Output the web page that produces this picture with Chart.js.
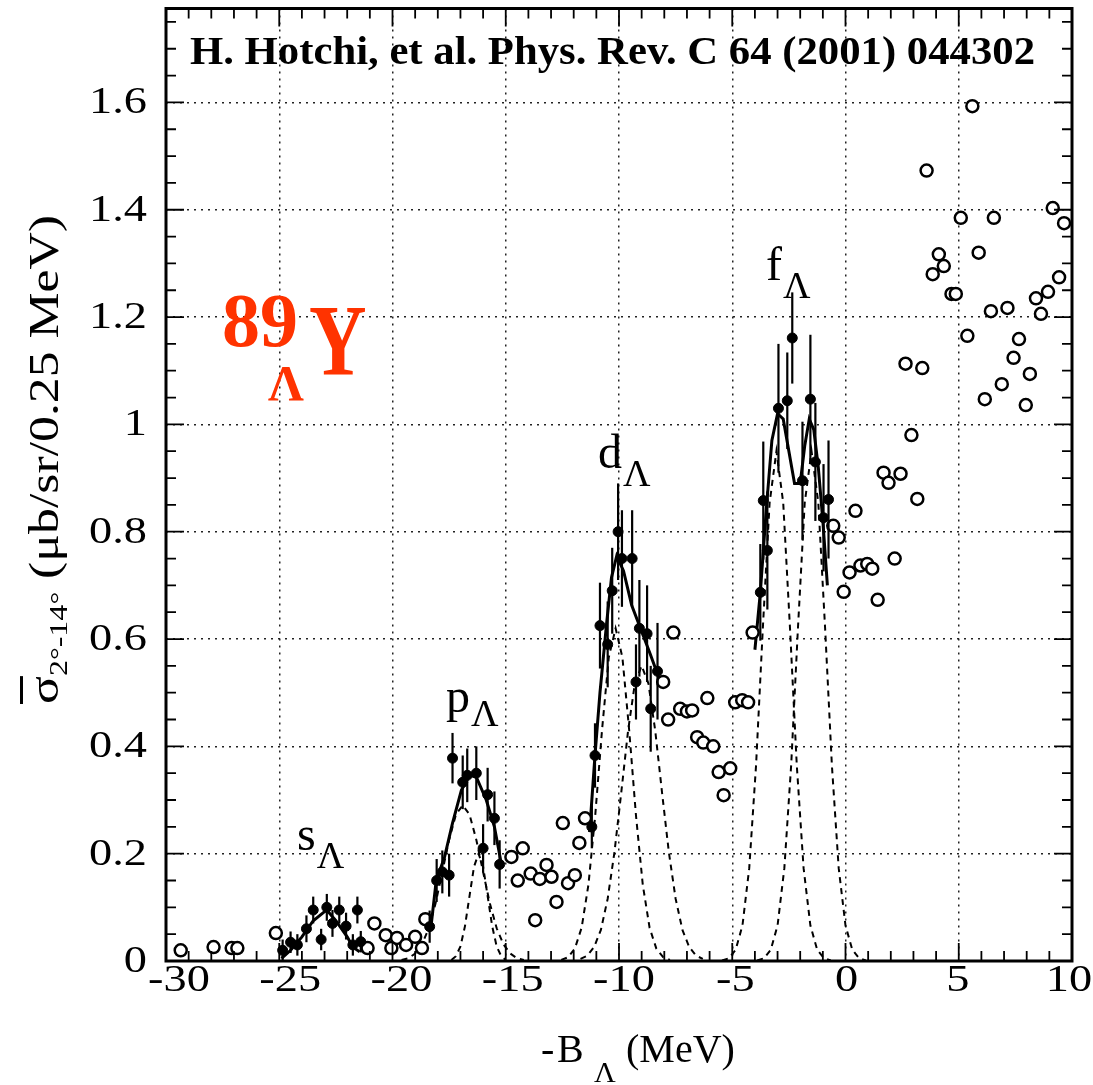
<!DOCTYPE html>
<html>
<head>
<meta charset="utf-8">
<script src="https://cdn.jsdelivr.net/npm/chart.js@4.4.0/dist/chart.umd.min.js"></script>
<style>
  html, body { margin: 0; padding: 0; background: #fff; }
</style>
</head>
<body>
<canvas id="chart" width="1093" height="1085"></canvas>
<script>
// ──────────────────────────────────────────────
// Data (x = -B_Λ in MeV, y = cross section)
// ──────────────────────────────────────────────

// open circles (outside the fitted regions)
const openX = [-29.35, -27.9, -27.1, -26.85, -25.15, -21.1, -20.8, -20.3, -20.05, -19.8, -19.4, -19.0, -18.7, -18.55,
               -14.75, -14.47, -14.25, -13.9, -13.7, -13.5, -13.2, -12.98, -12.76, -12.48, -12.25, -11.95, -11.75, -11.5,
               -8.05, -7.83, -7.6, -7.3, -7.0, -6.77, -6.55, -6.28, -6.1, -5.84, -5.6, -5.38, -5.09, -4.87, -4.56, -4.3, -4.1,
               -0.54, -0.3, -0.08, 0.18, 0.44, 0.66, 0.96, 1.18, 1.42, 1.68, 1.9, 2.17, 2.43, 2.65, 2.91, 3.17, 3.39, 3.58,
               3.85, 4.12, 4.34, 4.68, 4.87, 5.09, 5.38, 5.6, 5.88, 6.15, 6.42, 6.55, 6.9, 7.15, 7.42, 7.66, 7.96, 8.14,
               8.41, 8.63, 8.94, 9.15, 9.43, 9.65];
const openY = [0.02, 0.026, 0.024, 0.024, 0.052, 0.024, 0.07, 0.048, 0.024, 0.043, 0.03, 0.045, 0.024, 0.078,
               0.194, 0.15, 0.21, 0.163, 0.076, 0.153, 0.179, 0.157, 0.11, 0.257, 0.145, 0.16, 0.22, 0.266,
               0.52, 0.45, 0.612, 0.47, 0.465, 0.467, 0.417, 0.407, 0.49, 0.40, 0.352, 0.309, 0.359, 0.482, 0.486, 0.482, 0.612,
               0.811, 0.789, 0.688, 0.724, 0.839, 0.737, 0.74, 0.731, 0.673, 0.91, 0.891, 0.75, 0.908, 1.113, 0.98, 0.861, 1.105, 1.473,
               1.28, 1.317, 1.295, 1.243, 1.243, 1.385, 1.165, 1.593, 1.32, 1.047, 1.211, 1.385, 1.075, 1.217, 1.124, 1.159, 1.036, 1.094,
               1.235, 1.206, 1.247, 1.403, 1.274, 1.375];

// filled points with error bars (fitted regions)
const fillX = [-24.85, -24.5, -24.2, -23.8, -23.5, -23.15, -22.9, -22.65, -22.35, -22.05, -21.75, -21.55, -21.4,
               -18.36, -18.05, -17.8, -17.5, -17.35, -16.9, -16.7, -16.3, -16.0, -15.8, -15.5, -15.27,
               -11.2, -11.06, -10.84, -10.5, -10.3, -10.04, -9.87, -9.42, -9.25, -9.1, -8.76, -8.6, -8.3,
               -3.76, -3.63, -3.45, -2.96, -2.57, -2.35, -1.9, -1.55, -1.33, -0.97, -0.75];
const fillY = [0.02, 0.035, 0.03, 0.06, 0.095, 0.04, 0.10, 0.07, 0.095, 0.065, 0.03, 0.095, 0.036,
               0.064, 0.15, 0.166, 0.16, 0.378, 0.333, 0.346, 0.35, 0.21, 0.31, 0.266, 0.18,
               0.25, 0.383, 0.625, 0.59, 0.69, 0.80, 0.75, 0.75, 0.52, 0.62, 0.61, 0.47, 0.54,
               0.687, 0.858, 0.765, 1.03, 1.044, 1.161, 0.895, 1.047, 0.93, 0.826, 0.86];
const fillErr = [0.02, 0.02, 0.02, 0.025, 0.025, 0.02, 0.025, 0.025, 0.025, 0.025, 0.02, 0.025, 0.02,
                 0.03, 0.04, 0.04, 0.04, 0.047, 0.05, 0.05, 0.05, 0.045, 0.05, 0.05, 0.045,
                 0.04, 0.06, 0.08, 0.08, 0.08, 0.09, 0.09, 0.09, 0.07, 0.09, 0.09, 0.08, 0.09,
                 0.09, 0.11, 0.11, 0.12, 0.09, 0.085, 0.11, 0.12, 0.11, 0.1, 0.11];

// total fit (solid) per shell
const sFitX = [-24.9, -24.5, -24.0, -23.5, -23.0, -22.9, -22.5, -22.0, -21.75, -21.45];
const sFitY = [0.005, 0.02, 0.045, 0.075, 0.092, 0.095, 0.075, 0.045, 0.026, 0.017];
const pFitX = [-18.3, -18.07, -17.7, -17.35, -16.96, -16.6, -16.3, -15.86, -15.5, -15.2];
const pFitY = [0.064, 0.15, 0.194, 0.257, 0.318, 0.346, 0.343, 0.30, 0.25, 0.182];
const dFitX = [-11.3, -11.06, -10.84, -10.55, -10.33, -10.1, -9.8, -9.44, -9.07, -8.63, -8.2];
const dFitY = [0.24, 0.383, 0.5, 0.628, 0.715, 0.755, 0.727, 0.663, 0.622, 0.573, 0.523];
const fFitX = [-4.0, -3.76, -3.5, -3.25, -3.0, -2.75, -2.5, -2.25, -2.0, -1.8, -1.6, -1.4, -1.2, -1.0, -0.8];
const fFitY = [0.58, 0.687, 0.84, 0.97, 1.02, 1.01, 0.95, 0.89, 0.89, 0.96, 1.01, 0.99, 0.92, 0.82, 0.70];

// single components (dashed)
const p1DashX = [-19.6, -19.3, -19.0, -18.7, -18.4, -18.1, -17.8, -17.5, -17.2, -16.9, -16.6, -16.3, -16.0, -15.7, -15.4, -15.1, -14.8, -14.5, -14.2];
const p1DashY = [0.002, 0.005, 0.014, 0.031, 0.061, 0.107, 0.166, 0.226, 0.273, 0.29, 0.273, 0.226, 0.166, 0.107, 0.061, 0.031, 0.014, 0.005, 0.002];
const p2DashX = [-17.4, -17.2, -17.0, -16.8, -16.6, -16.4, -16.2, -16.0, -15.8, -15.6, -15.4, -15.2, -15.0];
const p2DashY = [0.002, 0.009, 0.027, 0.065, 0.121, 0.176, 0.2, 0.176, 0.121, 0.065, 0.027, 0.009, 0.002];
const d1DashX = [-12.55, -12.25, -11.95, -11.65, -11.35, -11.05, -10.75, -10.45, -10.15, -9.85, -9.55, -9.25, -8.95, -8.65, -8.35, -8.05, -7.75];
const d1DashY = [0.002, 0.007, 0.023, 0.062, 0.142, 0.271, 0.43, 0.566, 0.62, 0.566, 0.43, 0.271, 0.142, 0.062, 0.023, 0.007, 0.002];
const d2DashX = [-11.7, -11.4, -11.1, -10.8, -10.5, -10.2, -9.9, -9.6, -9.3, -9.0, -8.7, -8.4, -8.1, -7.8, -7.5, -7.2, -6.9, -6.6, -6.3];
const d2DashY = [0.004, 0.010, 0.026, 0.058, 0.116, 0.203, 0.314, 0.429, 0.517, 0.55, 0.517, 0.429, 0.314, 0.203, 0.116, 0.058, 0.026, 0.010, 0.004];
const f1DashX = [-5.45, -5.15, -4.85, -4.55, -4.25, -3.95, -3.65, -3.35, -3.05, -2.75, -2.45, -2.15, -1.85, -1.55, -1.25, -0.95, -0.65];
const f1DashY = [0.001, 0.005, 0.021, 0.066, 0.173, 0.364, 0.62, 0.854, 0.95, 0.854, 0.62, 0.364, 0.173, 0.066, 0.021, 0.005, 0.001];
const f2DashX = [-3.9, -3.6, -3.3, -3.0, -2.7, -2.4, -2.1, -1.8, -1.5, -1.2, -0.9, -0.6, -0.3, 0.0, 0.3, 0.6, 0.9];
const f2DashY = [0.001, 0.005, 0.021, 0.066, 0.173, 0.364, 0.62, 0.854, 0.95, 0.854, 0.62, 0.364, 0.173, 0.066, 0.021, 0.005, 0.001];

// axes
const X_MIN = -30, X_MAX = 10, X_STEP = 5;
const Y_MIN = 0, Y_MAX = 1.775, Y_STEP = 0.2;

// ──────────────────────────────────────────────
// Helpers
// ──────────────────────────────────────────────
const pts = (xs, ys) => xs.map((x, i) => ({ x, y: ys[i] }));
const SERIF = '"Liberation Serif", "Times New Roman", serif';

function lineSet(xs, ys, dashed) {
    return {
        data: pts(xs, ys),
        showLine: true,
        borderColor: '#000',
        borderWidth: dashed ? 2 : 3,
        borderDash: dashed ? [6, 5] : [],
        pointRadius: 0,
        fill: false,
        tension: 0
    };
}

// text with a lowered subscript
function labelWithSub(ctx, main, sub, x, y, size, subSize, dy) {
    ctx.font = `${size}px ${SERIF}`;
    ctx.fillText(main, x, y);
    const w = ctx.measureText(main).width;
    ctx.font = `${subSize}px ${SERIF}`;
    ctx.fillText(sub, x + w + 1, y + dy);
}

// text widened horizontally around an anchor
function wideText(ctx, str, x, y, sx) {
    ctx.save();
    ctx.translate(x, y);
    ctx.scale(sx, 1);
    ctx.fillText(str, 0, 0);
    ctx.restore();
}

const fmtY = v => String(Math.round(v * 10) / 10);

// ──────────────────────────────────────────────
// Error bars, frame, inner ticks, labels
// ──────────────────────────────────────────────
const decor = {
    id: 'decor',
    afterDatasetsDraw(chart) {
        const { ctx, scales: { x, y } } = chart;
        ctx.save();
        ctx.strokeStyle = '#000';
        ctx.lineWidth = 2.2;
        fillX.forEach((vx, i) => {
            const px = x.getPixelForValue(vx);
            ctx.beginPath();
            ctx.moveTo(px, y.getPixelForValue(fillY[i] - fillErr[i]));
            ctx.lineTo(px, y.getPixelForValue(fillY[i] + fillErr[i]));
            ctx.stroke();
        });
        ctx.restore();
    },
    afterDraw(chart) {
        const { ctx, chartArea: a, scales: { x, y } } = chart;
        ctx.save();
        ctx.strokeStyle = '#000';

        // inner ticks on all four sides
        ctx.lineWidth = 1.8;
        for (let v = X_MIN; v <= X_MAX; v += 1) {
            const px = x.getPixelForValue(v);
            const len = v % 5 === 0 ? 18 : 10;
            ctx.beginPath();
            ctx.moveTo(px, a.bottom); ctx.lineTo(px, a.bottom - len);
            ctx.moveTo(px, a.top);    ctx.lineTo(px, a.top + len);
            ctx.stroke();
        }
        for (let k = 0; k * 0.05 <= Y_MAX; k++) {
            const py = y.getPixelForValue(k * 0.05);
            const len = k % 4 === 0 ? 18 : 10;
            ctx.beginPath();
            ctx.moveTo(a.left, py);  ctx.lineTo(a.left + len, py);
            ctx.moveTo(a.right, py); ctx.lineTo(a.right - len, py);
            ctx.stroke();
        }

        // frame
        ctx.lineWidth = 3;
        ctx.strokeRect(a.left, a.top, a.right - a.left, a.bottom - a.top);

        // tick labels from the scales' own ticks
        ctx.fillStyle = '#000';
        ctx.font = `38px ${SERIF}`;
        ctx.textBaseline = 'middle';
        ctx.textAlign = 'right';
        y.ticks.forEach(t => wideText(ctx, fmtY(t.value), 147, y.getPixelForValue(t.value) + 1, 1.22));
        ctx.textAlign = 'center';
        ctx.textBaseline = 'top';
        x.ticks.forEach(t => wideText(ctx, String(t.value), x.getPixelForValue(t.value) + 1 - 0.4 * t.value, 962, 1.22));
        ctx.textAlign = 'left';
        ctx.textBaseline = 'alphabetic';

        // reference line at the top
        ctx.save();
        ctx.font = `bold 39px ${SERIF}`;
        const ref = 'H. Hotchi, et al. Phys. Rev. C 64 (2001) 044302';
        ctx.translate(190, 64);
        ctx.scale(845 / ctx.measureText(ref).width, 1);
        ctx.fillText(ref, 0, 0);
        ctx.restore();

        // peak labels
        labelWithSub(ctx, 's', 'Λ', 297, 850, 48, 38, 18);
        labelWithSub(ctx, 'p', 'Λ', 446, 712, 48, 38, 14);
        labelWithSub(ctx, 'd', 'Λ', 598, 468, 48, 38, 18);
        labelWithSub(ctx, 'f', 'Λ', 766, 280, 48, 38, 18);

        // nucleus label
        ctx.fillStyle = '#ff3300';
        ctx.font = `bold 76px ${SERIF}`;
        ctx.fillText('89', 222, 346);
        ctx.font = `bold 50px ${SERIF}`;
        ctx.fillText('Λ', 268, 400);
        ctx.font = `bold 102px ${SERIF}`;
        wideText(ctx, 'Y', 309, 375, 0.78);

        // x axis title: -B_Λ (MeV)
        ctx.fillStyle = '#000';
        ctx.font = `40px ${SERIF}`;
        ctx.fillText('-', 541, 1062);
        ctx.fillText('B', 557, 1062);
        ctx.font = `30px ${SERIF}`;
        ctx.fillText('Λ', 594, 1082);
        ctx.font = `40px ${SERIF}`;
        ctx.fillText('(MeV)', 626, 1062);

        // y axis title, rotated
        ctx.save();
        ctx.translate(58, 704);
        ctx.rotate(-Math.PI / 2);
        ctx.font = `42px ${SERIF}`;
        const wSig = ctx.measureText('σ').width;
        ctx.font = `26px ${SERIF}`;
        const wSub = ctx.measureText('2°-14°').width;
        ctx.font = `42px ${SERIF}`;
        const rest = ' (μb/sr/0.25 MeV)';
        const wRest = ctx.measureText(rest).width;
        ctx.scale(489 / (wSig + wSub + wRest), 1);
        ctx.fillText('σ', 0, 0);
        ctx.fillRect(0, -38, wSig, 3);
        ctx.font = `26px ${SERIF}`;
        ctx.fillText('2°-14°', wSig, 9);
        ctx.font = `42px ${SERIF}`;
        ctx.fillText(rest, wSig + wSub, 0);
        ctx.restore();

        ctx.restore();
    }
};

// ──────────────────────────────────────────────
// Chart
// ──────────────────────────────────────────────
new Chart(document.getElementById('chart'), {
    type: 'scatter',
    data: {
        datasets: [
            {
                data: pts(fillX, fillY),
                pointRadius: 5,
                pointBackgroundColor: '#000',
                pointBorderColor: '#000',
                pointBorderWidth: 1
            },
            {
                data: pts(openX, openY),
                pointRadius: 6,
                pointBackgroundColor: '#fff',
                pointBorderColor: '#000',
                pointBorderWidth: 2.5
            },
            lineSet(sFitX, sFitY, false),
            lineSet(pFitX, pFitY, false),
            lineSet(dFitX, dFitY, false),
            lineSet(fFitX, fFitY, false),
            lineSet(p1DashX, p1DashY, true),
            lineSet(p2DashX, p2DashY, true),
            lineSet(d1DashX, d1DashY, true),
            lineSet(d2DashX, d2DashY, true),
            lineSet(f1DashX, f1DashY, true),
            lineSet(f2DashX, f2DashY, true)
        ]
    },
    options: {
        responsive: false,
        animation: false,
        layout: { padding: { left: 0, right: 21, top: 8, bottom: 0 } },
        plugins: { legend: { display: false }, tooltip: { enabled: false } },
        scales: {
            x: {
                type: 'linear',
                min: X_MIN, max: X_MAX,
                afterFit: s => { s.height = 124; s.paddingLeft = 0; s.paddingRight = 0; },
                ticks: { stepSize: X_STEP, display: false },
                grid: { color: '#222', lineWidth: 1.5, drawTicks: false },
                border: { display: false, dash: [2, 5] }
            },
            y: {
                type: 'linear',
                min: Y_MIN, max: Y_MAX,
                afterFit: s => { s.width = 166; s.paddingTop = 0; s.paddingBottom = 0; },
                ticks: { stepSize: Y_STEP, includeBounds: false, display: false },
                grid: { color: '#222', lineWidth: 1.5, drawTicks: false },
                border: { display: false, dash: [2, 5] }
            }
        }
    },
    plugins: [decor]
});
</script>
</body>
</html>
